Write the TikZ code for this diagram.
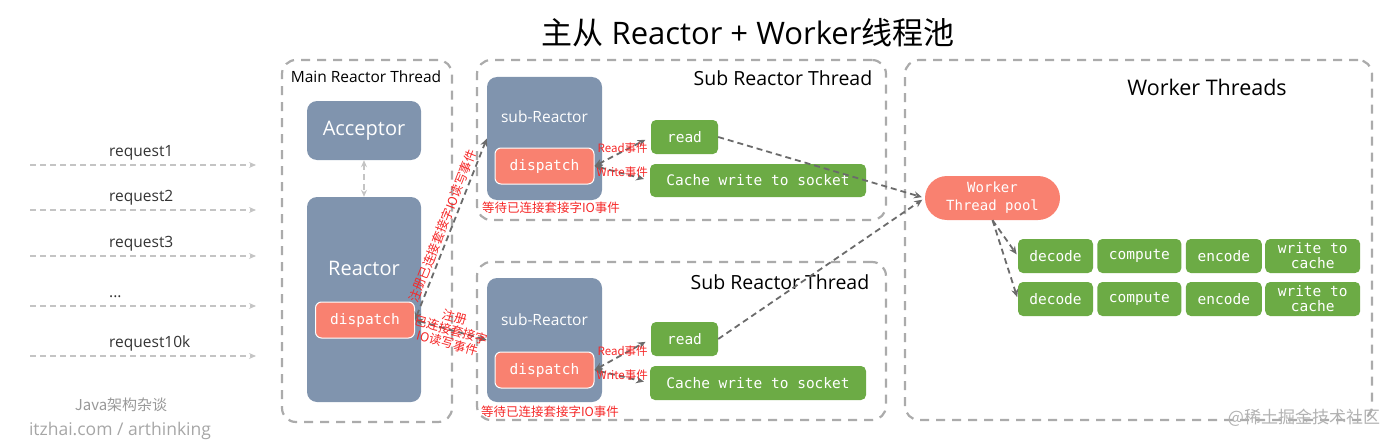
\documentclass[tikz,border=0pt]{standalone}
\usepackage{fontspec}
\setmainfont{Open Sans}
\setmonofont{DejaVu Sans Mono}
\newfontfamily\cjk{Noto Sans CJK SC}
\usetikzlibrary{arrows.meta, positioning}

\definecolor{slate}{HTML}{8094AE}
\definecolor{salmon}{HTML}{F98170}
\definecolor{leaf}{HTML}{6CAB45}
\definecolor{frame}{HTML}{ABABAB}
\definecolor{flow}{HTML}{6B6B6B}
\definecolor{req}{HTML}{C4C4C4}
\definecolor{note}{HTML}{F52828}

\newcommand\monotext{\ttfamily\fontsize{14.5}{16.5}\selectfont}

\begin{document}
\begin{tikzpicture}[x=1pt, y=-1pt,
    thread/.style={draw=frame, line width=2.2pt, dash pattern=on 9pt off 7pt, rounded corners=14pt, inner sep=0pt},
    core/.style={fill=slate, rounded corners=10pt, inner sep=0pt},
    coretext/.style={text=white, inner sep=0pt},
    disp/.style={fill=salmon, draw=white, line width=1pt, rounded corners=6pt, text=white, font=\monotext, minimum width=99, minimum height=36},
    task/.style={fill=leaf, rounded corners=5pt, text=white, font=\monotext, minimum height=34, inner sep=1pt, align=center},
    flowarr/.style={draw=flow, line width=1.8pt, dash pattern=on 6pt off 4pt, >={Stealth[length=8pt,width=7pt]}},
    reqarr/.style={draw=req, line width=1.6pt, dash pattern=on 6pt off 4pt, >={Stealth[length=7pt,width=6pt]}},
    note/.style={text=note, font=\cjk\fontsize{12.5}{13.5}\selectfont, inner sep=1pt},
    tiny note/.style={text=note, font=\cjk\fontsize{11.5}{12}\selectfont, inner sep=0pt}
]
    \useasboundingbox (0,0) rectangle (1400,444);

    % title
    \node[font=\fontsize{31}{33}\selectfont] (title) at (748,33) {{\cjk 主从} Reactor + Worker{\cjk 线程池}};

    % incoming requests
    \foreach \yy/\txt [count=\i] in {165/request1, 210/request2, 256/request3, 306/{...}, 356/request10k} {
        \node[anchor=base west, text=black!80, font=\fontsize{15.5}{17}\selectfont, inner sep=0pt] (req\i) at (109,\yy-9) {\txt};
        \coordinate (rs\i) at (30,\yy);
        \coordinate (re\i) at (256,\yy);
        \draw[reqarr, ->] (rs\i) -- (re\i);
    }

    % thread frames
    \node[thread, minimum width=170, minimum height=362] (mainT) at (367,241) {};
    \node[thread, minimum width=409, minimum height=160] (subT1) at (681.5,140) {};
    \node[thread, minimum width=409, minimum height=158] (subT2) at (681.5,341) {};
    \node[thread, minimum width=467, minimum height=360] (workT) at (1138.5,240) {};

    \node[font=\fontsize{15.5}{17}\selectfont] (mainL) at (366,77) {Main Reactor Thread};
    \node[font=\fontsize{19.5}{21}\selectfont] (subL1) at (783,78) {Sub Reactor Thread};
    \node[font=\fontsize{19.5}{21}\selectfont] (subL2) at (780,282) {Sub Reactor Thread};
    \node[font=\fontsize{21.5}{23}\selectfont] (workL) at (1207,87) {Worker Threads};

    % main reactor
    \node[core, minimum width=114, minimum height=59] (acc) at (364,130.5) {};
    \node[coretext, font=\fontsize{20}{22}\selectfont] (accT) at (acc) {Acceptor};
    \node[core, minimum width=114, minimum height=205] (reac) at (364,299.5) {};
    \node[coretext, font=\fontsize{20}{22}\selectfont] (reacT) at (364,268) {Reactor};
    \node[disp] (mainDisp) at (365,320) {dispatch};
    \draw[reqarr, <->] (acc) -- (reac);

    % sub reactors
    \node[core, minimum width=115, minimum height=123] (sub1) at (544.5,138.5) {};
    \node[coretext, font=\fontsize{15.5}{17}\selectfont] (sub1T) at (544.5,117) {sub-Reactor};
    \node[disp] (disp1) at (544.5,166) {dispatch};
    \node[note] (wait1) at (551,208) {等待已连接套接字IO事件};

    \node[core, minimum width=115, minimum height=124] (sub2) at (544.5,340) {};
    \node[coretext, font=\fontsize{15.5}{17}\selectfont] (sub2T) at (544.5,320) {sub-Reactor};
    \node[disp] (disp2) at (544.5,370) {dispatch};
    \node[note] (wait2) at (550,412) {等待已连接套接字IO事件};

    \node[task, minimum width=67] (read1) at (684.5,137) {read};
    \node[task, minimum width=216, minimum height=33] (cache1) at (758,180.5) {Cache write to socket};
    \node[task, minimum width=67] (read2) at (684.5,339) {read};
    \node[task, minimum width=216] (cache2) at (758,383) {Cache write to socket};

    % worker pool
    \node[fill=salmon, rounded corners=22pt, minimum width=135, minimum height=44, inner sep=0pt,
          text=white, font=\ttfamily\fontsize{14}{18}\selectfont, align=center] (pool) at (992.5,198) {Worker\\Thread pool};

    \node[task, minimum width=75] (dec1) at (1055.5,256) {decode};
    \node[task, minimum width=84, right=4pt of dec1] (comp1) {compute};
    \node[task, minimum width=76, right=4pt of comp1] (enc1) {encode};
    \node[task, minimum width=95, right=3pt of enc1, font=\ttfamily\fontsize{14.5}{15}\selectfont] (wc1) {write to\\cache};

    \node[task, minimum width=75] (dec2) at (1055.5,299) {decode};
    \node[task, minimum width=84, right=4pt of dec2] (comp2) {compute};
    \node[task, minimum width=76, right=4pt of comp2] (enc2) {encode};
    \node[task, minimum width=95, right=3pt of enc2, font=\ttfamily\fontsize{14.5}{15}\selectfont] (wc2) {write to\\cache};

    % register connections
    \draw[flowarr, <->] (mainDisp.east) -- node[note, sloped, above=1pt] (regUp) {注册已连接套接字IO读写事件} (sub1.west);
    \draw[flowarr, <->] (mainDisp.east) -- node[note, sloped, align=center] (regDown) {注册\\已连接套接字\\IO读写事件} (sub2.west);

    % read / write events
    \draw[flowarr, <->, shorten >=6pt] (disp1.east) -- node[tiny note, yshift=3pt] (rd1) {Read事件} (read1.west);
    \draw[flowarr, <->, shorten >=6pt] (disp1.east) -- node[tiny note, yshift=1pt] (wr1) {Write事件} (cache1.west);
    \draw[flowarr, <->, shorten >=6pt] (disp2.east) -- node[tiny note, yshift=3pt] (rd2) {Read事件} (read2.west);
    \draw[flowarr, <->, shorten >=6pt] (disp2.east) -- node[tiny note, yshift=1pt] (wr2) {Write事件} (cache2.west);

    % hand over to workers
    \draw[flowarr, ->, shorten >=3pt] (read1.east) -- (pool.west);
    \draw[flowarr, ->, shorten >=3pt] (read2.east) -- (pool.west);
    \draw[flowarr, ->, shorten >=2pt] (pool.south) -- (dec1.west);
    \draw[flowarr, ->, shorten >=2pt] (pool.south) -- (dec2.west);

    % watermarks
    \node[text=black!40, font=\cjk\fontsize{15}{17}\selectfont] (wm1) at (121,405) {Java架构杂谈};
    \node[text=black!35, font=\fontsize{17.5}{19}\selectfont] (wm2) at (120,431) {itzhai.com / arthinking};
    \node[text=black!30, font=\cjk\fontsize{17}{19}\selectfont] (wm3) at (1304,418) {@稀土掘金技术社区};
\end{tikzpicture}
\end{document}
